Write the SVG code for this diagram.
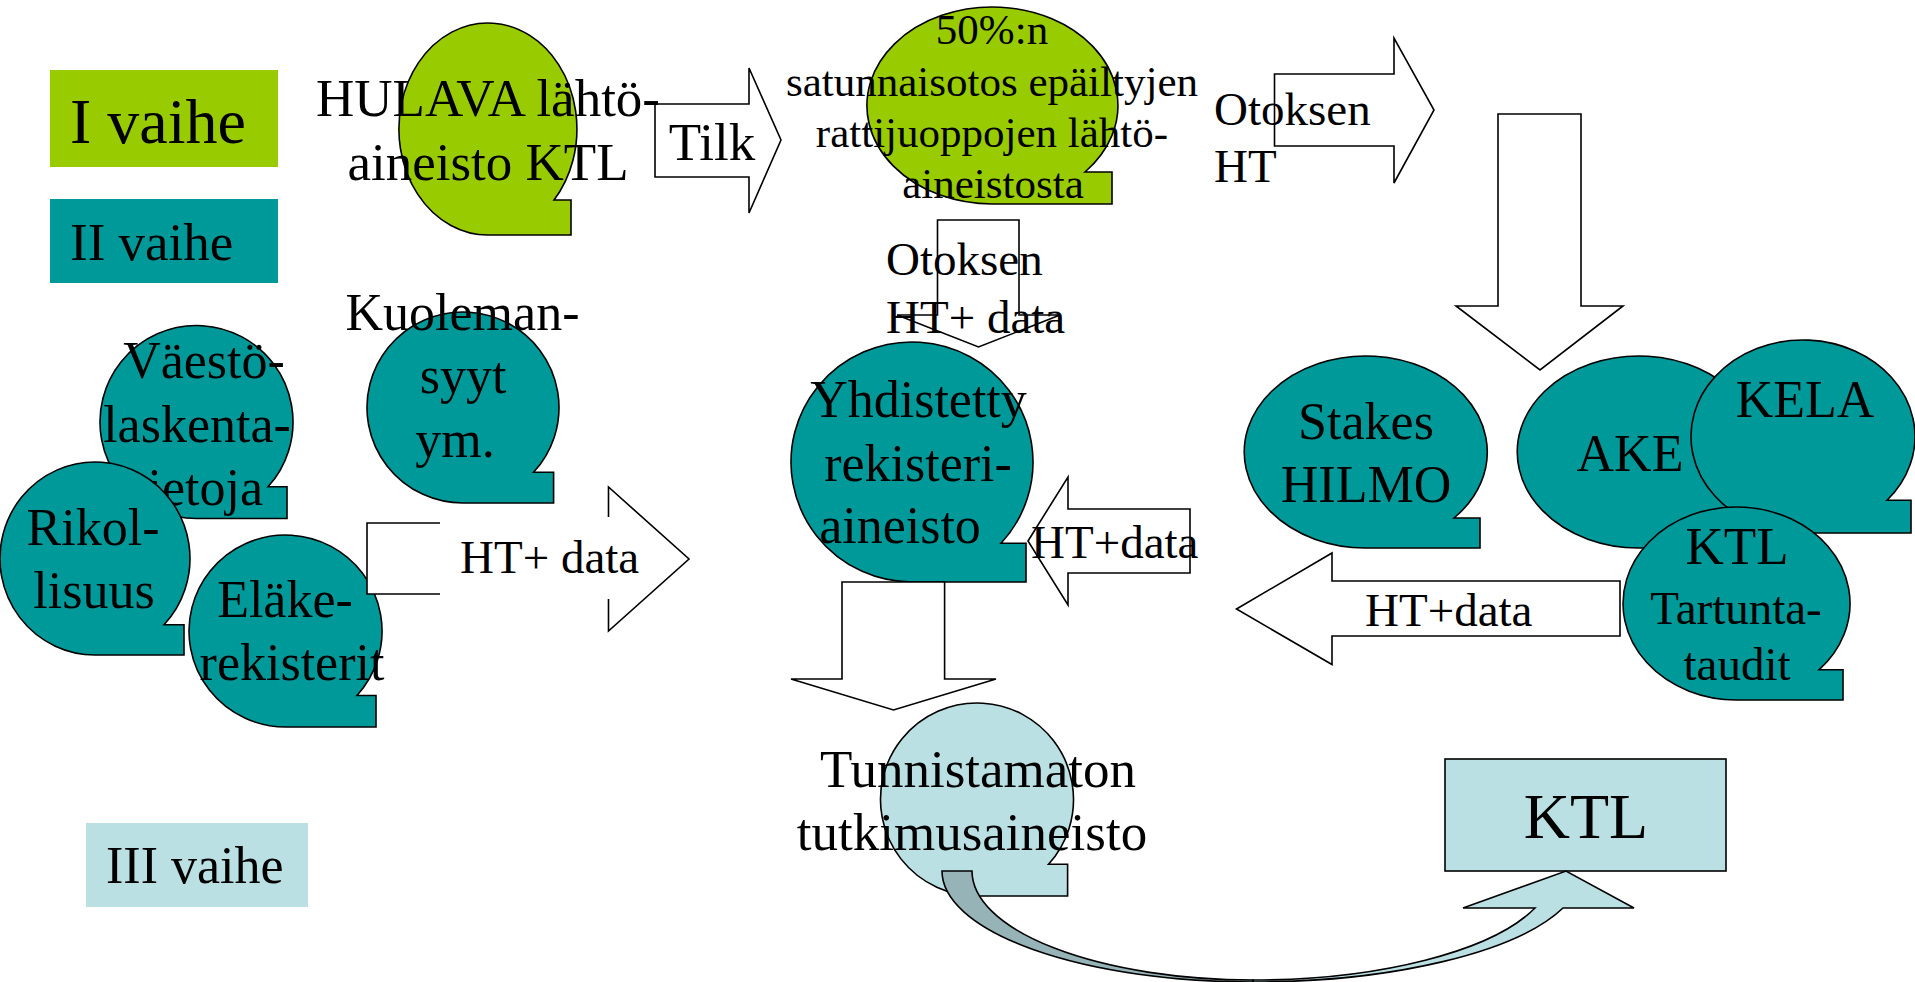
<svg xmlns="http://www.w3.org/2000/svg" width="1915" height="982" viewBox="0 0 1915 982">
<style>
text{font-family:"Liberation Serif","Times New Roman",serif;fill:#000}
.m{text-anchor:middle}
.f64{font-size:64px}
.f53{font-size:53px}
.f52{font-size:52px}
.f47{font-size:47px}
.f43{font-size:43px}
.g{fill:#99CC00;stroke:#000;stroke-width:1.6}
.t{fill:#009999;stroke:#000;stroke-width:1.6}
.l{fill:#BBE0E3;stroke:#000;stroke-width:1.6}
.a{fill:#fff;stroke:#000;stroke-width:1.6}
.o{fill:none;stroke:#000;stroke-width:1.6}
</style>
<rect width="1915" height="982" fill="#fff"/>

<g id="phase1">
<rect x="50" y="70" width="228" height="97" fill="#99CC00"/>
<text x="70" y="143" class="f64">I vaihe</text>
</g>
<g id="phase2">
<rect x="50" y="199" width="228" height="84" fill="#009999"/>
<text x="70" y="260" class="f53">II vaihe</text>
</g>
<g id="phase3">
<rect x="86" y="823" width="222" height="84" fill="#BBE0E3"/>
<text x="106" y="883" class="f52">III vaihe</text>
</g>

<g id="hulava">
<path class="g" d="M571,235 V200 H554 A89,106 0 1 0 488,235 Z"/>
<text class="m f53" x="488" y="116">HULAVA lähtö-</text>
<text class="m f53" x="488" y="180">aineisto KTL</text>
</g>

<g id="otos">
<path class="g" d="M1112,204 V172 H1085 A125.5,98.5 0 1 0 992.5,204 Z"/>
<text class="m f43" x="992" y="44">50%:n</text>
<text class="m f43" x="992" y="96">satunnaisotos epäiltyjen</text>
<text class="m f43" x="992" y="147">rattijuoppojen lähtö-</text>
<text class="m f43" x="993" y="198">aineistosta</text>
</g>

<g id="vaesto">
<path class="t" d="M287,518.5 V486.8 H268 A96.5,96.5 0 1 0 196.5,518.5 Z"/>
<text class="m f52" x="204" y="378">Väestö-</text>
<text class="m f52" x="197" y="442">laskenta-</text>
<text class="m f52" x="198" y="505">tietoja</text>
</g>

<g id="rikol">
<path class="t" d="M184,655 V624.8 H164 A95,96.5 0 1 0 95,655 Z"/>
<text class="m f52" x="93" y="545">Rikol-</text>
<text class="m f52" x="94" y="608">lisuus</text>
</g>

<g id="elake">
<path class="t" d="M376,727 V695.5 H357 A96.5,96 0 1 0 285.5,727 Z"/>
<text class="m f52" x="285" y="617">Eläke-</text>
<text class="m f52" x="292" y="680">rekisterit</text>
</g>

<g id="kuoleman">
<path class="t" d="M553.6,503 V472.3 H533.5 A96,95.5 0 1 0 463,503 Z"/>
<text class="m f52" x="462.5" y="330">Kuoleman-</text>
<text class="m f52" x="463" y="393">syyt</text>
<text class="m f52" x="455" y="457">ym.</text>
</g>

<g id="yhdistetty">
<path class="t" d="M1026,582 V543.3 H1001 A121,120 0 1 0 912,582 Z"/>
<text class="m f52" x="918.5" y="417">Yhdistetty</text>
<text class="m f52" x="918" y="481">rekisteri-</text>
<text class="m f52" x="900" y="543">aineisto</text>
</g>

<g id="stakes">
<path class="t" d="M1480,548 V518 H1454 A121.5,96 0 1 0 1365.5,548 Z"/>
<text class="m f52" x="1366" y="439">Stakes</text>
<text class="m f52" x="1366" y="502">HILMO</text>
</g>

<g id="ake">
<path class="t" d="M1753,548 V518 H1727 A121.5,96 0 1 0 1638.5,548 Z"/>
<text class="m f52" x="1630" y="471">AKE</text>
</g>

<g id="kela">
<path class="t" d="M1911,533 V500.3 H1887 A112,96.5 0 1 0 1803,533 Z"/>
<text class="m f52" x="1805" y="417">KELA</text>
</g>

<g id="ktl-tartunta">
<path class="t" d="M1843,700 V669.8 H1819 A113.5,96.5 0 1 0 1736.5,700 Z"/>
<text class="m f53" x="1737" y="564">KTL</text>
<text class="m f47" x="1736" y="624">Tartunta-</text>
<text class="m f47" x="1737" y="680">taudit</text>
</g>

<g id="tunnistamaton">
<path class="l" d="M1067.6,896 V864.3 H1048.5 A96.5,96.5 0 1 0 977,896 Z"/>
<text class="m f53" x="978" y="787">Tunnistamaton</text>
<text class="m f53" x="972" y="850">tutkimusaineisto</text>
</g>

<g id="ktl-box">
<rect class="l" x="1445" y="759" width="281" height="112"/>
<text class="m f64" x="1586" y="838">KTL</text>
</g>

<g id="connectors">
<path class="o" d="M655,104 H749 V68 L781,140 L749,213 V177 H655 Z"/>
<text class="m f53" x="712" y="160">Tilk</text>

<path class="o" d="M1274.5,74 H1394 V38 L1434,110 L1394,183 V146 H1274.5 Z"/>
<text class="f47" x="1214" y="125">Otoksen</text>
<text class="f47" x="1214" y="182">HT</text>

<path class="o" d="M937.5,220 H1019 V315 H1060 L978.5,347 L897,315 H937.5 Z"/>
<text class="f47" x="886" y="275">Otoksen</text>
<text class="f47" x="886" y="333">HT+ data</text>

<path class="o" d="M1498,114 H1581 V306 H1623 L1540,370 L1456,306 H1498 Z"/>

<path class="a" d="M367,523 H608.5 V487 L689,559 L608.5,631 V594 H367 Z"/>
<rect x="440" y="517" width="172" height="82" fill="#fff"/>
<text class="f47" x="460" y="573">HT+ data</text>

<path class="o" d="M1028,541 L1068,477 V509 H1190 V573 H1068 V605 Z"/>
<text class="f47" x="1031" y="558">HT+data</text>

<path class="a" d="M1236.5,609 L1332,553 V581 H1620 V636 H1332 V664.5 Z"/>
<text class="f47" x="1365" y="626">HT+data</text>

<path class="a" d="M842,582 V679 H791 L893.5,710 L996,679 H944.6 V582 Z"/>

<path d="M942,871 H972 A281,109 0 0 0 1253,980 L1253,982 A311,111 0 0 1 942,871 Z" fill="#96B4B8" stroke="#000" stroke-width="1.6"/>
<path class="l" d="M1253,982 A328.8,111 0 0 0 1563,908 L1634,908 L1566,871 L1463,908 L1535,908 A299.8,109 0 0 1 1253,980 Z"/>
</g>
</svg>
